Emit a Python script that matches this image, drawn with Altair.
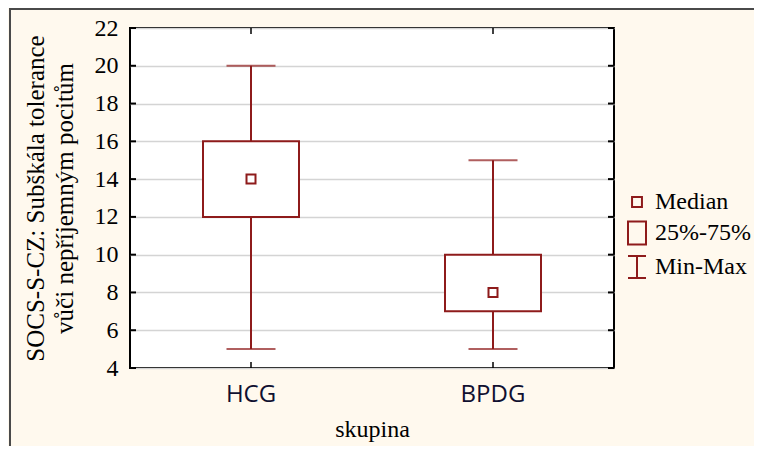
import altair as alt
import pandas as pd

groups = ["HCG", "BPDG"]
mins = [5, 5]
q1s = [12, 7]
medians = [14, 8]
q3s = [16, 10]
maxs = [20, 15]
y_ticks = [4, 6, 8, 10, 12, 14, 16, 18, 20, 22]
legend_items = ["Median", "25%-75%", "Min-Max"]

DARK_RED = "#8E1B1B"
SERIF = "Liberation Serif"

df = pd.DataFrame({"skupina": groups, "min": mins, "q1": q1s, "median": medians,
                   "q3": q3s, "max": maxs})
ticks_df = pd.DataFrame({"v": y_ticks})
leg_df = pd.DataFrame({"item": legend_items})
one = pd.DataFrame({"a": [0]})

W, H = 484, 340

xs = alt.Scale(type="band", domain=groups, paddingInner=0, paddingOuter=0)
ys = alt.Scale(domain=[4, 22], nice=False, zero=False)

x_axis = alt.Axis(title="skupina", labelAngle=0, ticks=False, domain=False,
                  labelFont="Open Sans", labelFontSize=24, labelColor="#101030",
                  labelPadding=14, titleFont=SERIF, titleFontSize=24,
                  titleFontWeight="normal", titleColor="black", titlePadding=11)
y_axis = alt.Axis(title=["SOCS-S-CZ: Subškála tolerance", "vůči nepříjemným pocitům"],
                  values=y_ticks, ticks=False, domain=False, grid=True,
                  labelOverlap=False, labelFlush=False,
                  gridColor="#d4d4d4", gridWidth=1.5,
                  labelFont=SERIF, labelFontSize=24, labelColor="black", labelPadding=12,
                  titleFont=SERIF, titleFontSize=25, titleFontWeight="normal",
                  titleColor="black", titlePadding=17, titleLineHeight=29)


def X(field="skupina"):
    return alt.X(f"{field}:N", scale=xs, sort=groups, axis=x_axis)


def Y(field):
    return alt.Y(f"{field}:Q", scale=ys, axis=y_axis)


base = alt.Chart(df)

whisker = base.mark_rule(color=DARK_RED, strokeWidth=2).encode(
    x=X(), y=Y("min"), y2="max:Q")
caps_min = base.mark_tick(color=DARK_RED, size=49, thickness=2).encode(
    x=X(), y=Y("min"))
caps_max = base.mark_tick(color=DARK_RED, size=49, thickness=2).encode(
    x=X(), y=Y("max"))
box = base.mark_bar(fill="white", stroke=DARK_RED, strokeWidth=2, size=96).encode(
    x=X(), y=Y("q1"), y2="q3:Q")
med = base.mark_square(fill="white", stroke=DARK_RED, strokeWidth=2, size=81,
                       opacity=1).encode(x=X(), y=Y("median"))

tk = alt.Chart(ticks_df)
ytick_l = tk.mark_rule(color="black", strokeWidth=2).encode(
    y=Y("v"), x=alt.value(0), x2=alt.value(6))
ytick_r = tk.mark_rule(color="black", strokeWidth=2).encode(
    y=Y("v"), x=alt.value(W - 6), x2=alt.value(W))
gk = alt.Chart(df)
xtick_b = gk.mark_rule(color="black", strokeWidth=1.5).encode(
    x=X(), y=alt.value(H), y2=alt.value(H - 6))
xtick_t = gk.mark_rule(color="black", strokeWidth=1.5).encode(
    x=X(), y=alt.value(0), y2=alt.value(6))

frame = alt.Chart(one).mark_rect(fill=None, fillOpacity=0, stroke="#4a4a4a",
                                 strokeWidth=2).encode(
    x=alt.value(-120), x2=alt.value(W + 400), y=alt.value(-19), y2=alt.value(H + 300))

legend_layer = alt.Chart(leg_df).mark_point(filled=False, color=DARK_RED,
                                            strokeWidth=2, opacity=1).encode(
    x=alt.value(0), y=alt.value(0),
    shape=alt.Shape("item:N",
                    scale=alt.Scale(domain=legend_items,
                                    range=["M-0.55,-0.55H0.55V0.55H-0.55Z",
                                           "M-1,-1.28H1V1.28H-1Z",
                                           "M-1,-1.22H1M0,-1.22V1.22M-1,1.22H1"]),
                    legend=alt.Legend(title=None, orient="none", legendX=495, legendY=162,
                                      padding=0, symbolSize=324, symbolStrokeWidth=2,
                                      symbolStrokeColor=DARK_RED, symbolOpacity=1,
                                      symbolFillColor="transparent",
                                      labelFont=SERIF, labelFontSize=24,
                                      labelColor="black", labelOffset=6,
                                      rowPadding=3))
).transform_filter("false")

chart = alt.layer(frame, whisker, caps_min, caps_max, box, med,
                  ytick_l, ytick_r, xtick_b, xtick_t, legend_layer).properties(
    width=W, height=H,
    autosize=alt.AutoSizeParams(type="none"),
    padding={"left": 122, "top": 20, "right": 140, "bottom": 78},
    background="#FFF9EE",
).configure_view(fill="white", stroke="black", strokeWidth=2)

chart.save("out.html", embed_options={"renderer": "svg", "actions": False})
